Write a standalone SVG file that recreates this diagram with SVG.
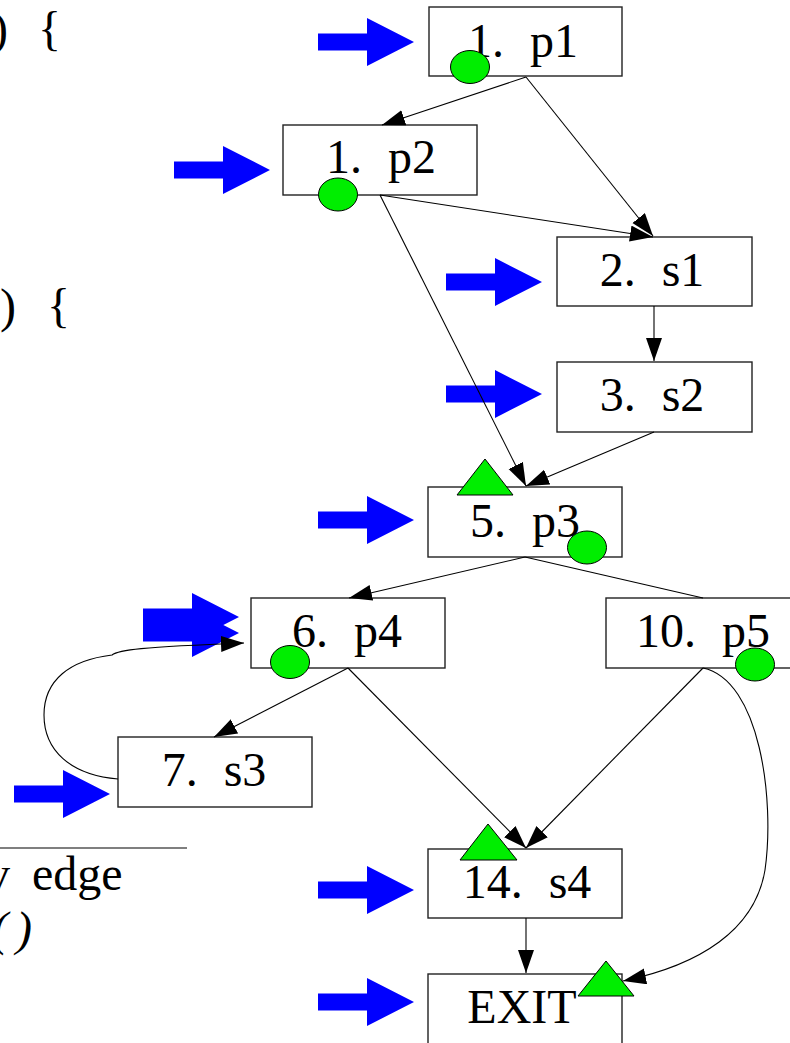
<svg xmlns="http://www.w3.org/2000/svg" width="790" height="1043" viewBox="0 0 790 1043">
<style>
.box{fill:#fff;stroke:#222;stroke-width:1.4}
.lbl{font-family:"Liberation Serif","Times New Roman",serif;font-size:48px;fill:#000;text-anchor:middle;word-spacing:14px}
.side{font-family:"Liberation Serif","Times New Roman",serif;font-size:48px;fill:#000}
.edge{fill:none;stroke:#000;stroke-width:1.1}
.blue{fill:#0000ff}
.g{fill:#00ee00;stroke:#000;stroke-width:1}
</style>
<defs>
<marker id="ah" markerUnits="userSpaceOnUse" markerWidth="24" markerHeight="18" refX="23" refY="8" orient="auto">
<path d="M0,0 L23,8 L0,16 Z" fill="#000"/>
</marker>
<path id="barrow" d="M-96,-8.5 H-47 V-24 L0,0 L-47,24 V8.5 H-96 Z"/>
</defs>

<g id="sidetext">
<text class="side" y="45"><tspan x="-8">)</tspan><tspan x="38">{</tspan></text>
<text class="side" y="322"><tspan x="0">)</tspan><tspan x="47">{</tspan></text>
<line x1="0" y1="848" x2="187" y2="848" stroke="#555" stroke-width="1.5"/>
<text class="side" y="890"><tspan x="-14">v</tspan><tspan x="32">edge</tspan></text>
<text class="side" y="945" font-style="italic"><tspan x="-8">(</tspan><tspan x="16">)</tspan></text>
</g>

<g id="pointers" class="blue">
<use href="#barrow" x="414" y="42"/>
<use href="#barrow" x="270" y="170"/>
<use href="#barrow" x="542" y="282"/>
<use href="#barrow" x="542" y="394"/>
<use href="#barrow" x="414" y="520"/>
<use href="#barrow" x="239" y="617"/>
<use href="#barrow" x="239" y="633"/>
<use href="#barrow" x="110" y="794"/>
<use href="#barrow" x="414" y="890"/>
<use href="#barrow" x="414" y="1002"/>
</g>

<g id="n_p1"><rect class="box" x="429" y="7" width="193" height="69"/><text class="lbl" x="523" y="57">1. p1</text></g>
<g id="n_p2"><rect class="box" x="283" y="125" width="194" height="70"/><text class="lbl" x="381" y="173">1. p2</text></g>
<g id="n_s1"><rect class="box" x="557" y="237" width="195" height="69"/><text class="lbl" x="652" y="286">2. s1</text></g>
<g id="n_s2"><rect class="box" x="557" y="362" width="195" height="70"/><text class="lbl" x="652" y="411">3. s2</text></g>
<g id="n_p3"><rect class="box" x="428" y="487" width="194" height="70"/><text class="lbl" x="525" y="537">5. p3</text></g>
<g id="n_p4"><rect class="box" x="251" y="598" width="194" height="70"/><text class="lbl" x="347" y="647">6. p4</text></g>
<g id="n_p5"><rect class="box" x="606" y="598" width="194" height="70"/><text class="lbl" x="703" y="647">10. p5</text></g>
<g id="n_s3"><rect class="box" x="118" y="737" width="194" height="70"/><text class="lbl" x="214" y="786">7. s3</text></g>
<g id="n_s4"><rect class="box" x="428" y="849" width="194" height="69"/><text class="lbl" x="527" y="898">14. s4</text></g>
<g id="n_exit"><rect class="box" x="428" y="974" width="194" height="72"/><text class="lbl" x="522" y="1023">EXIT</text></g>

<g id="connectors">
<path class="edge" d="M526,77 L382,125" marker-end="url(#ah)"/>
<path class="edge" d="M526,77 L653,236" marker-end="url(#ah)"/>
<path class="edge" d="M380,195 L653,237" marker-end="url(#ah)"/>
<path class="edge" d="M380,195 L526,486" marker-end="url(#ah)"/>
<path class="edge" d="M654,306 L654,361" marker-end="url(#ah)"/>
<path class="edge" d="M654,432 L526,486" marker-end="url(#ah)"/>
<path class="edge" d="M525,557 L349,598" marker-end="url(#ah)"/>
<path class="edge" d="M525,557 L703,598"/>
<path class="edge" d="M348,668 L214,737" marker-end="url(#ah)"/>
<path class="edge" d="M348,668 L526,848" marker-end="url(#ah)"/>
<path class="edge" d="M703,668 L526,848" marker-end="url(#ah)"/>
<path class="edge" d="M526,918 L526,973" marker-end="url(#ah)"/>
<path class="edge" d="M703,668 C760,680 775,800 765,870 C755,930 700,965 623,981" marker-end="url(#ah)"/>
<path class="edge" d="M118,779 C70,775 44,750 44,715 C44,680 70,660 112,655 C118,650 140,647 244,643" marker-end="url(#ah)"/>
</g>

<g id="marks">
<ellipse class="g" cx="470" cy="67" rx="19.5" ry="16.5"/>
<ellipse class="g" cx="338" cy="194.5" rx="19.5" ry="16.5"/>
<ellipse class="g" cx="587" cy="547.5" rx="19.5" ry="16.5"/>
<ellipse class="g" cx="290" cy="662" rx="19.5" ry="16.5"/>
<ellipse class="g" cx="755" cy="664.5" rx="19.5" ry="16.5"/>
<polygon class="g" points="485,459 513,495 457,495"/>
<polygon class="g" points="488,824 517,860 460,860"/>
<polygon class="g" points="606,961 634,996 578,996"/>
</g>
</svg>
